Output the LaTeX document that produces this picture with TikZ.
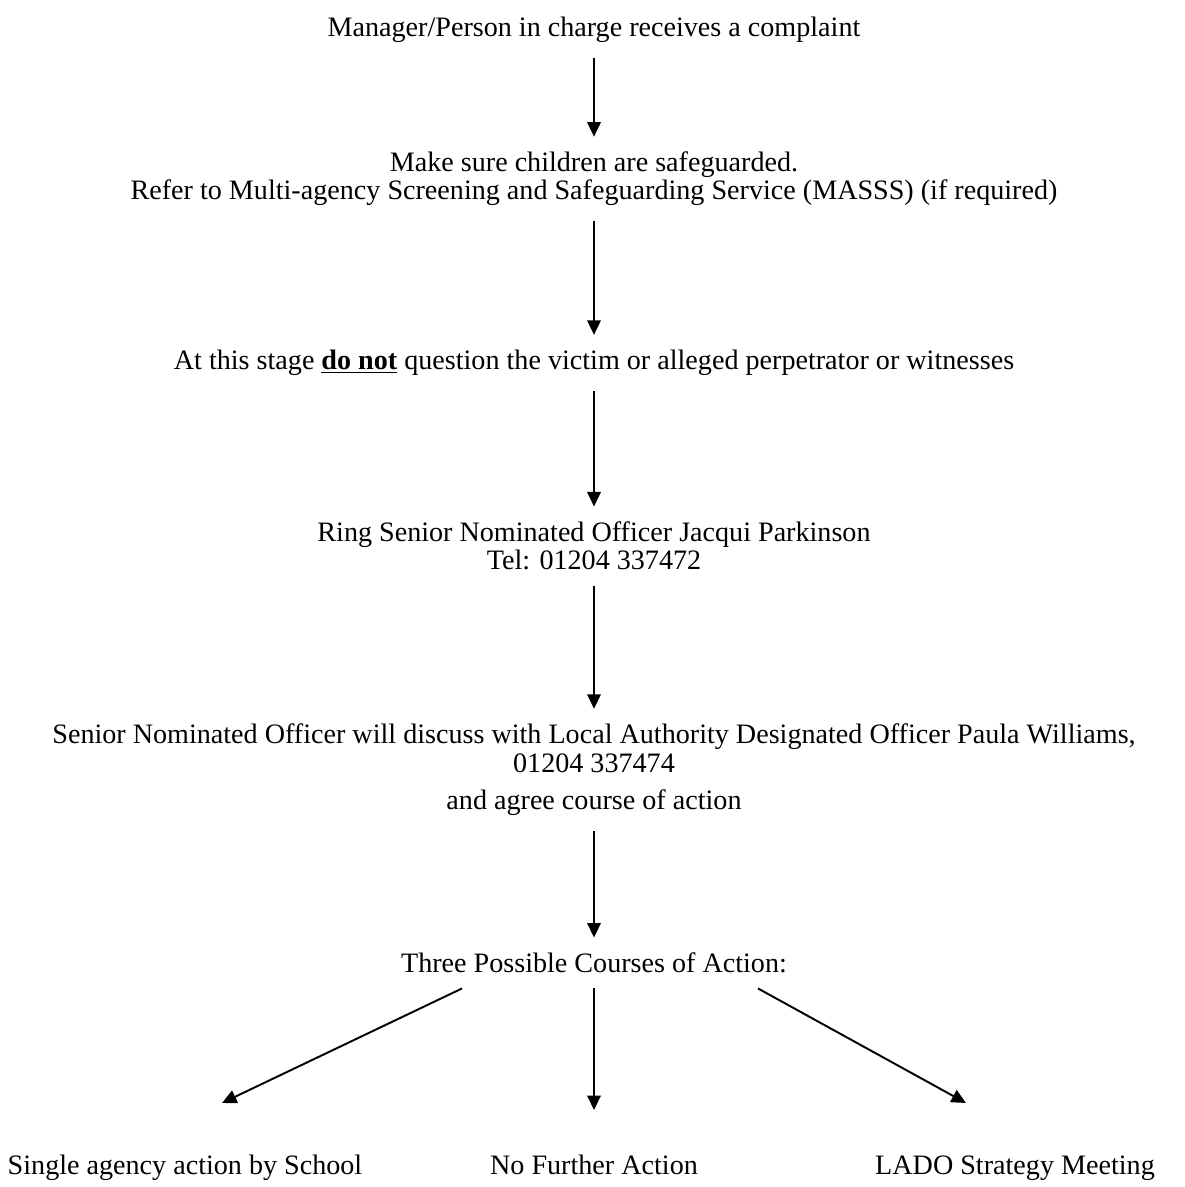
\documentclass[tikz,border=0pt]{standalone}
\usepackage{fontspec}
\setmainfont{Liberation Serif}
\usepackage{tikz}
\usetikzlibrary{arrows.meta}

\begin{document}
\begin{tikzpicture}[x=1cm,y=1cm,
  txt/.style={align=center, font=\fontsize{16}{16}\selectfont, inner sep=0.3cm},
  arr/.style={-{Triangle[length=2.9mm, width=2.7mm]}, line width=1.1pt}]
\useasboundingbox (0,0) rectangle (23.68,-23.74);
\node[txt] (MG) at (11.88,-0.6)   {Manager/Person in charge receives a complaint};
\node[txt] (SG) at (11.88,-3.58)  {Make sure children are safeguarded.\\Refer to Multi-agency Screening and Safeguarding Service (MASSS) (if required)};
\node[txt] (DN) at (11.88,-7.26)  {At this stage \underline{\textbf{do not}} question the victim or alleged perpetrator or witnesses};
\node[txt] (RS) at (11.88,-10.92) {Ring Senior Nominated Officer Jacqui Parkinson\\Tel: 01204 337472};
\node[txt] (LA) at (11.88,-15.4)  {Senior Nominated Officer will discuss with Local Authority Designated Officer Paula Williams,\\01204 337474\\[5.5pt]and agree course of action};
\node[txt] (TP) at (11.88,-19.26) {Three Possible Courses of Action:};
\node[txt, anchor=base] (SA) at (3.7,-23.48)   {Single agency action by School};
\node[txt, anchor=base] (NF) at (11.88,-23.48) {No Further Action};
\node[txt, anchor=base] (LS) at (20.3,-23.48)  {LADO Strategy Meeting};
\draw[arr] (MG) -- (SG);
\draw[arr] (SG) -- (DN);
\draw[arr] (DN) -- (RS);
\draw[arr] (RS) -- (LA);
\draw[arr] (LA) -- (TP);
\draw[arr] ([xshift=-2.64cm]TP.south) -- ([xshift=0.74cm,yshift=1.42cm]SA.base);
\draw[arr] (TP) -- ([yshift=1.28cm]NF.base);
\draw[arr] ([xshift=3.28cm]TP.south) -- ([xshift=-0.98cm,yshift=1.42cm]LS.base);
\end{tikzpicture}
\end{document}
